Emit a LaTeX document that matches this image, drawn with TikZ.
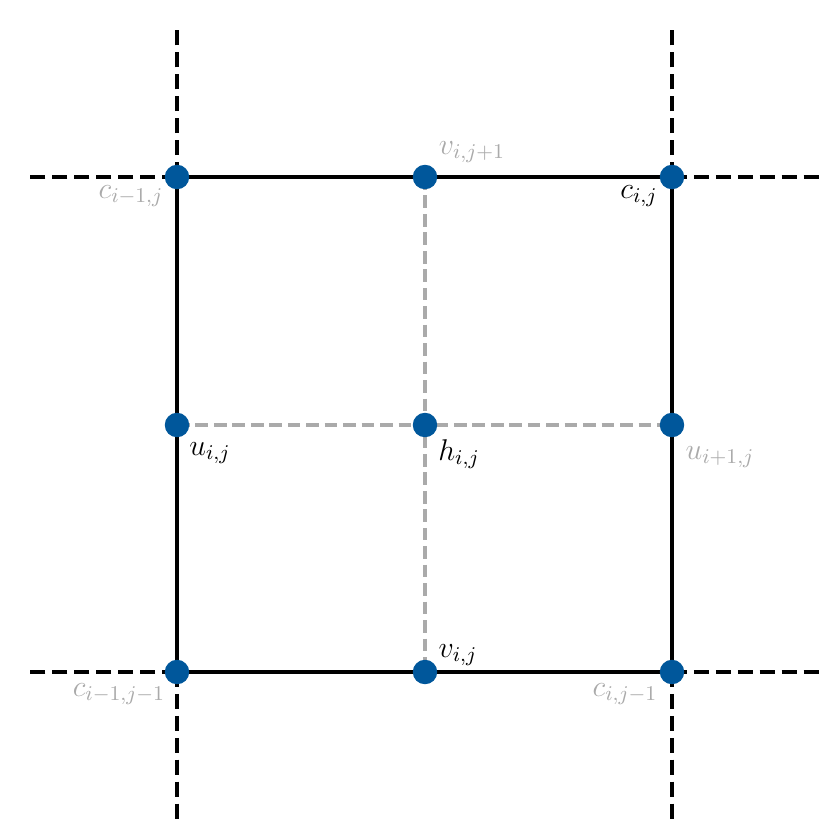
\RequirePackage{fix-cm}
\documentclass[tikz,border=0pt]{standalone}
\definecolor{dotblue}{RGB}{0,87,155}
\definecolor{lgrey}{RGB}{170,170,170}
\begin{document}
\begin{tikzpicture}[x=0.4333pt,y=-0.4333pt,
  pt/.style={circle,fill=dotblue,inner sep=0pt,minimum size=10.6pt},
  solidline/.style={line width=1.7pt,black},
  ext/.style={line width=1.7pt,black,dash pattern=on 6.5pt off 3pt},
  inner/.style={line width=1.4pt,lgrey,dash pattern=on 5.5pt off 2.5pt},
  lab/.style={inner sep=0pt,font=\fontsize{13}{15}\selectfont},
  glab/.style={lab,text=lgrey},
  blab/.style={lab,text=black}]
\useasboundingbox (0,0) rectangle (834,834);
% extension coordinates
\coordinate (tl-up) at (177,25);
\coordinate (tl-left) at (25,177);
\coordinate (tr-up) at (672,25);
\coordinate (tr-right) at (825,177);
\coordinate (bl-down) at (177,825);
\coordinate (bl-left) at (25,672);
\coordinate (br-down) at (672,825);
\coordinate (br-right) at (825,672);
% grid point coordinates
\coordinate (TL) at (177,177);
\coordinate (TR) at (672,177);
\coordinate (BL) at (177,672);
\coordinate (BR) at (672,672);
\coordinate (TM) at (425,177);
\coordinate (BM) at (425,672);
\coordinate (ML) at (177,425);
\coordinate (MR) at (672,425);
\coordinate (C) at (425,425);
% inner grey dashed
\draw[inner] (TM) -- (BM);
\draw[inner] (ML) -- (MR);
% dashed extensions
\draw[ext] (TL) -- (tl-up);
\draw[ext] (TL) -- (tl-left);
\draw[ext] (TR) -- (tr-up);
\draw[ext] (TR) -- (tr-right);
\draw[ext] (BL) -- (bl-down);
\draw[ext] (BL) -- (bl-left);
\draw[ext] (BR) -- (br-down);
\draw[ext] (BR) -- (br-right);
% square
\draw[solidline] (TL) -- (TR) -- (BR) -- (BL) -- cycle;
% dots
\foreach \p in {TL,TR,BL,BR,TM,BM,ML,MR,C}
  \node[pt] (d\p) at (\p) {};
% labels
\node[glab] (l-cim1j) at (131,196) {$c_{i-1,j}$};
\node[glab] (l-vijp1) at (472,152) {$v_{i,j+1}$};
\node[blab] (l-cij) at (639,196) {$c_{i,j}$};
\node[blab] (l-uij) at (210,453) {$u_{i,j}$};
\node[blab] (l-hij) at (459,454) {$h_{i,j}$};
\node[glab] (l-uip1j) at (720,457) {$u_{i+1,j}$};
\node[glab] (l-cim1jm1) at (119,694) {$c_{i-1,j-1}$};
\node[blab] (l-vij) at (458,655) {$v_{i,j}$};
\node[glab] (l-cijm1) at (625,694) {$c_{i,j-1}$};
\end{tikzpicture}
\end{document}
